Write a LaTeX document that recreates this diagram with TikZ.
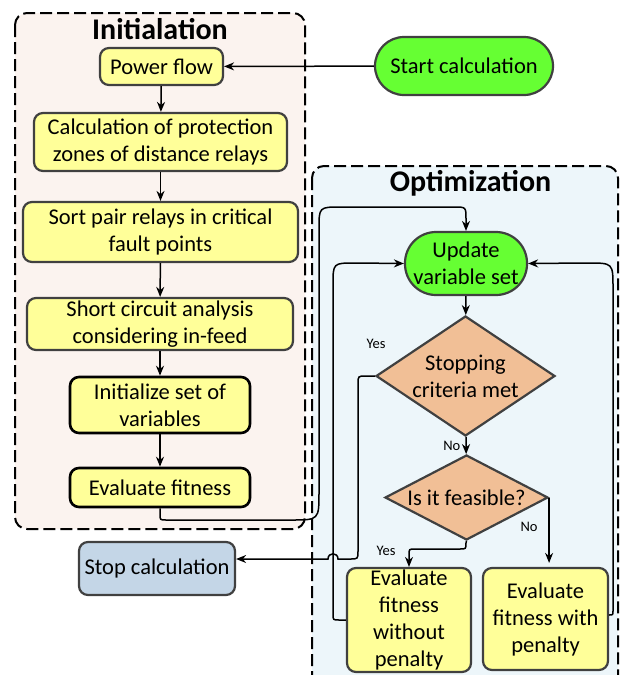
\documentclass[tikz,border=0pt]{standalone}
\usepackage{fontspec}
\setmainfont{Carlito}
\usetikzlibrary{arrows.meta,shapes.geometric}

\definecolor{boxfill}{RGB}{255,255,153}
\definecolor{boxedge}{RGB}{64,64,64}
\definecolor{startfill}{RGB}{102,255,51}
\definecolor{decfill}{RGB}{241,191,150}
\definecolor{stopfill}{RGB}{196,214,231}
\definecolor{initbg}{RGB}{251,243,239}
\definecolor{optbg}{RGB}{237,246,250}

\begin{document}
\begin{tikzpicture}[x=1pt,y=-1pt,
  every node/.style={font=\fontsize{22.5}{27}\selectfont, align=center, inner sep=0pt},
  proc/.style={rectangle, rounded corners=9pt, draw=boxedge, line width=2.2pt, fill=boxfill},
  procb/.style={proc, draw=black, line width=2.6pt},
  term/.style={rectangle, draw=boxedge, line width=2.2pt, fill=startfill},
  decision/.style={diamond, draw=boxedge, line width=2.2pt, fill=decfill},
  stage/.style={draw=black, line width=2pt, dash pattern=on 12pt off 5pt, rounded corners=12pt},
  conn/.style={line width=1.5pt, -{Stealth[length=10pt,width=8pt]}},
  tag/.style={font=\fontsize{14.5}{17}\selectfont},
  heading/.style={font=\bfseries\fontsize{30}{36}\selectfont, anchor=base}
]
\clip (0,0) rectangle (621,675);

% stage frames
\draw[stage, fill=initbg] (15,13) rectangle (305,529);
\draw[stage, fill=optbg] (312,166) rectangle (618,690);
\node[heading] (inittitle) at (160,39) {Initialation};
\node[heading] (opttitle) at (470.5,191) {Optimization};

% initialisation steps
\node[proc, minimum width=123pt, minimum height=37pt] (pf) at (161.5,66.5) {Power flow};
\node[proc, minimum width=253pt, minimum height=58pt] (calc) at (160.5,142) {Calculation of protection\\zones of distance relays};
\node[proc, minimum width=275pt, minimum height=60pt] (sort) at (160.5,232) {Sort pair relays in critical\\fault points};
\node[proc, minimum width=266pt, minimum height=52pt] (shortc) at (160,324) {Short circuit analysis\\considering in-feed};
\node[procb, minimum width=180pt, minimum height=56pt] (initv) at (160,405) {Initialize set of\\variables};
\node[procb, minimum width=180pt, minimum height=39pt] (evalf) at (160,487.5) {Evaluate fitness};

% terminals
\node[term, rounded corners=29pt, minimum width=178pt, minimum height=58pt] (start) at (464,66) {Start calculation};
\node[proc, fill=stopfill, minimum width=156pt, minimum height=53pt] (stopc) at (157,568.5) {Stop calculation};

% optimisation loop
\node[term, rounded corners=31pt, minimum width=122pt, minimum height=63pt] (upd) at (466,263.5) {Update\\variable set};
\node[decision, minimum width=179pt, minimum height=120pt,
      label={center:Stopping\\criteria met}] (stopd) at (465.5,376) {};
\node[decision, minimum width=163pt, minimum height=85pt,
      label={center:Is it feasible?}] (feas) at (466.5,497.5) {};
\node[proc, minimum width=124pt, minimum height=104pt] (evwo) at (409,620) {Evaluate\\fitness\\without\\penalty};
\node[proc, minimum width=125pt, minimum height=102pt] (evw) at (545.5,619) {Evaluate\\fitness with\\penalty};

% connectors
\draw[conn] (start) -- (pf);
\draw[conn] (pf) -- (calc);
\draw[conn] (calc) -- (sort);
\draw[conn] (sort) -- (shortc);
\draw[conn] (shortc) -- (initv);
\draw[conn] (initv) -- (evalf);

\draw[conn] (evalf.south) -- (160,514) .. controls (160,520) .. (166,520)
  -- (291,520) .. controls (319,520) .. (319,492)
  -- (319,229) .. controls (319,207) .. (341,207)
  -- (454,207) .. controls (466,207) .. (466,219) -- (upd.north);

\draw[conn] (upd) -- (stopd);
\draw[conn] (stopd) -- (feas) node[tag, pos=0.5, left=5pt] {No};

\draw[conn] (stopd.west) -- (366,376) .. controls (358,376) .. (358,384)
  -- (358,551) .. controls (358,559) .. (350,559)
  -- (338,559) .. controls (338,552) and (328,552) .. (328,559)
  -- ([yshift=9.5pt]stopc.east);
\node[tag] (yes1) at (376,344) {Yes};

\draw[conn] (feas.south) -- (466,543) .. controls (466,549) .. (460,549)
  -- (415,549) .. controls (409,549) .. (409,555) -- (evwo.north);
\node[tag] (yes2) at (386,551) {Yes};

\draw[conn, shorten >=4pt] (feas.east) -- (feas.east |- evw.north);
\node[tag] (no2) at (529,527) {No};

\draw[conn] (evwo.west) -- (339,620) .. controls (333,620) .. (333,614)
  -- (333,285) .. controls (333,263) .. (355,263) -- (upd.west);

\draw[conn] ([yshift=4pt]evw.east) -- (609,615) .. controls (613,615) .. (613,611)
  -- (613,288) .. controls (613,263) .. (588,263) -- (upd.east);
\end{tikzpicture}
\end{document}
